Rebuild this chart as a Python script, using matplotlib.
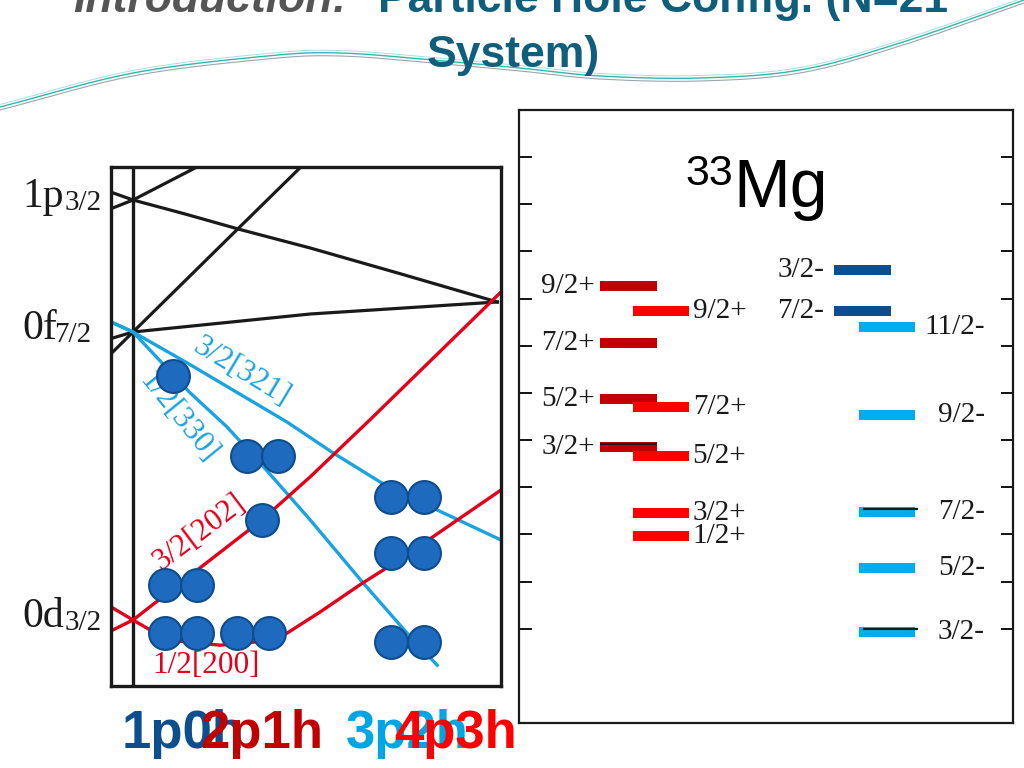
import numpy as np
import matplotlib.pyplot as plt

plt.rcParams['font.family'] = ['Liberation Serif', 'DejaVu Serif']

# ---- Nilsson diagram data (deformation beta, single-particle energy) ----
sph_names = ['1p', '0f', '0d']
sph_subs = ['3/2', '7/2', '3/2']
sph_e = [10.5, 7.2, 0.0]

# black orbitals (fp shell, not labelled)
b_1p_down = [-0.033, 0, 0.085, 0.175, 0.289, 0.435, 0.594]
e_1p_down = [10.68, 10.5, 10.15, 9.76, 9.3, 8.66, 7.95]
b_1p_up = [-0.033, 0, 0.101, 0.134]
e_1p_up = [10.3, 10.5, 11.3, 11.58]
b_0f_up = [-0.033, 0, 0.171, 0.272, 0.292]
e_0f_up = [6.7, 7.2, 9.78, 11.3, 11.6]
b_0f_flat = [-0.033, 0, 0.289, 0.594]
e_0f_flat = [7.05, 7.2, 7.65, 7.95]

# blue orbitals
b_321 = [-0.033, 0, 0.088, 0.251, 0.326, 0.403, 0.489, 0.6]
e_321 = [7.43, 7.2, 6.43, 4.95, 4.18, 3.45, 2.8, 2.0]
b_330 = [-0.033, 0, 0.093, 0.153, 0.207, 0.289, 0.375, 0.447, 0.496]
e_330 = [7.43, 7.2, 5.68, 4.83, 3.93, 2.5, 0.93, -0.33, -1.13]

# red orbitals
b_202 = [-0.033, 0, 0.109, 0.210, 0.289, 0.386, 0.6]
e_202 = [-0.25, 0, 1.3, 2.5, 3.58, 5.0, 8.2]
b_200 = [-0.033, 0, 0.028, 0.077, 0.142, 0.199, 0.251, 0.305, 0.370, 0.408, 0.489, 0.6]
e_200 = [0.3, 0, -0.25, -0.53, -0.63, -0.55, -0.33, 0.2, 0.88, 1.25, 2.08, 3.25]

# occupied orbitals (filled circles)
occ_b = [0.065, 0.186, 0.236, 0.210, 0.052, 0.104, 0.052, 0.104, 0.170, 0.222,
         0.421, 0.475, 0.421, 0.475, 0.421, 0.475]
occ_e = [6.1, 4.1, 4.1, 2.5, 0.88, 0.88, -0.33, -0.33, -0.33, -0.33,
         3.08, 3.08, 1.68, 1.68, -0.55, -0.55]

# ---- 33Mg level scheme (MeV) ----
pos_a_e = [3.63, 3.03, 2.44, 1.93]
pos_a_lab = ['9/2+', '7/2+', '5/2+', '3/2+']
pos_b_e = [3.37, 2.35, 1.83, 1.23, 0.98]
pos_b_lab = ['9/2+', '7/2+', '5/2+', '3/2+', '1/2+']
neg_c_e = [3.80, 3.37]
neg_c_lab = ['3/2-', '7/2-']
neg_d_e = [3.20, 2.27, 1.24, 0.64, -0.04]
neg_d_lab = ['11/2-', '9/2-', '7/2-', '5/2-', '3/2-']
thin_pos_e = [1.96]
thin_neg_e = [1.27, 0.0]

configs = ['1p0h', '2p1h', '3p2h', '4p3h']
config_colors = ['#0d4e8e', '#c00000', '#00a5e3', '#ff0000']

BLACK = '#1a1a1a'
BLUE = '#1aa3de'
RED = '#e2001a'


def catmull_rom(px, py, n=40):
    # smooth path through the decoration control points
    p = np.column_stack([px, py]).astype(float)
    p = np.vstack([2 * p[0] - p[1], p, 2 * p[-1] - p[-2]])
    out = []
    t = np.linspace(0, 1, n)[:, None]
    for i in range(1, len(p) - 2):
        p0, p1, p2, p3 = p[i - 1], p[i], p[i + 1], p[i + 2]
        seg = 0.5 * ((2 * p1) + (-p0 + p2) * t + (2 * p0 - 5 * p1 + 4 * p2 - p3) * t ** 2
                     + (-p0 + 3 * p1 - 3 * p2 + p3) * t ** 3)
        out.append(seg)
    out = np.vstack(out)
    return out[:, 0], out[:, 1]


fig = plt.figure(figsize=(10.24, 7.68), dpi=100)
fig.patch.set_facecolor('white')

# background layer in pixel units for the slide decoration and texts
bg = fig.add_axes([0, 0, 1, 1], zorder=0)
bg.set_xlim(0, 1024)
bg.set_ylim(768, 0)
bg.axis('off')

# swoosh
sx, sy = catmull_rom([0, 133, 267, 340, 433, 520, 600, 700, 800, 900, 1024],
                     [107, 73, 56, 53, 60, 68, 76, 78, 70, 43, 0])
bg.plot(sx, sy, color='#2fb8b0', lw=1.0)
bg.plot(sx, sy + 3, color='#9aa6aa', lw=0.8)
bg.plot(sx, sy - 2.5, color='#a8dfe0', lw=0.7)

# title
bg.text(73, 12, 'Introduction:', fontsize=32, fontweight='bold', style='italic',
        color='#555555', family='Liberation Sans', va='baseline')
bg.text(378, 12, 'Particle Hole Config. (N=21', fontsize=32, fontweight='bold',
        color='#0f5f7c', family='Liberation Sans', va='baseline')
bg.text(513, 67, 'System)', fontsize=32, fontweight='bold', color='#0f5f7c',
        family='Liberation Sans', va='baseline', ha='center')

# configuration labels
for name, col, x0 in zip(configs, config_colors, [122, 200, 346, 394]):
    bg.text(x0, 748, name, fontsize=38, fontweight='bold', color=col,
            family='Liberation Sans', va='baseline')

# ---- left panel: Nilsson diagram ----
ax1 = fig.add_axes([111 / 1024, 1 - 686 / 768, 390 / 1024, 519 / 768], zorder=1)
ax1.set_xlim(-0.0359, 0.6)
ax1.set_ylim(-1.65, 11.325)
ax1.set_xticks([])
ax1.set_yticks([])
for sp in ax1.spines.values():
    sp.set_linewidth(2.4)
    sp.set_color(BLACK)
ax1.axvline(0, color=BLACK, lw=2.4, zorder=2)

for b, e in [(b_1p_down, e_1p_down), (b_1p_up, e_1p_up),
             (b_0f_up, e_0f_up), (b_0f_flat, e_0f_flat)]:
    ax1.plot(b, e, color=BLACK, lw=2.3, zorder=2, solid_joinstyle='round')
for b, e in [(b_321, e_321), (b_330, e_330)]:
    ax1.plot(b, e, color=BLUE, lw=2.4, zorder=2, solid_joinstyle='round')
for b, e in [(b_202, e_202), (b_200, e_200)]:
    ax1.plot(b, e, color=RED, lw=2.4, zorder=2, solid_joinstyle='round')

ax1.scatter(occ_b, occ_e, s=560, color='#1e6abf', edgecolor='#0f4c8a',
            linewidth=1.5, zorder=4, clip_on=False)

lab_kw = dict(fontsize=22.5, ha='center', va='center', rotation_mode='anchor', zorder=3)
ax1.text(0.176, 6.2, '3/2[321]', color=BLUE, rotation=-31, **lab_kw)
ax1.text(0.074, 5.05, '1/2[330]', color=BLUE, rotation=-51, **lab_kw)
ax1.text(0.109, 2.2, '3/2[202]', color=RED, rotation=37, **lab_kw)
ax1.text(0.119, -1.13, '1/2[200]', color=RED, rotation=0, **lab_kw)

sub_x = [-0.111, -0.128, -0.111]
for name, sub, e, xs in zip(sph_names, sph_subs, sph_e, sub_x):
    ax1.text(-0.181, e - 0.17, name, fontsize=30, va='baseline', color=BLACK, clip_on=False)
    ax1.text(xs, e - 0.25, sub, fontsize=21, va='baseline', color=BLACK, clip_on=False)

# ---- right panel: 33Mg levels ----
ax2 = fig.add_axes([519 / 1024, 1 - 723 / 768, 494 / 1024, 613 / 768], zorder=1)
ax2.set_xlim(0, 10)
ax2.set_ylim(-1.0, 5.5)
ax2.set_xticks([])
ax2.set_yticks(np.arange(0, 5.01, 0.5))
ax2.tick_params(axis='y', direction='in', length=9, width=1.3, left=True, right=True,
                labelleft=False)
for sp in ax2.spines.values():
    sp.set_linewidth(1.6)
    sp.set_color(BLACK)

bar_kw = dict(lw=7.2, capstyle='butt')
ax2.hlines(pos_a_e, 1.64, 2.79, color='#c00000', **bar_kw)
ax2.hlines(pos_b_e, 2.31, 3.44, color='#ff0000', **bar_kw)
ax2.hlines(neg_c_e, 6.38, 7.53, color='#0d4e8e', **bar_kw)
ax2.hlines(neg_d_e, 6.88, 8.02, color='#00aeef', **bar_kw)
ax2.hlines(thin_pos_e, 1.64, 2.79, color=BLACK, lw=1.5)
ax2.hlines(thin_neg_e, 6.96, 8.08, color=BLACK, lw=1.5)

lv_kw = dict(fontsize=21, va='center', color=BLACK)
for e, t in zip(pos_a_e, pos_a_lab):
    ax2.text(1.54, e, t, ha='right', **lv_kw)
for e, t in zip(pos_b_e, pos_b_lab):
    ax2.text(4.6, e, t, ha='right', **lv_kw)
for e, t in zip(neg_c_e, neg_c_lab):
    ax2.text(6.18, e, t, ha='right', **lv_kw)
for e, t in zip(neg_d_e, neg_d_lab):
    ax2.text(9.43, e, t, ha='right', **lv_kw)

ax2.text(4.33, 4.475, 'Mg', fontsize=49, family='Liberation Sans', va='baseline')
ax2.text(3.36, 4.71, '33', fontsize=31, family='Liberation Sans', va='baseline')

fig.savefig('out.png', dpi=100)
